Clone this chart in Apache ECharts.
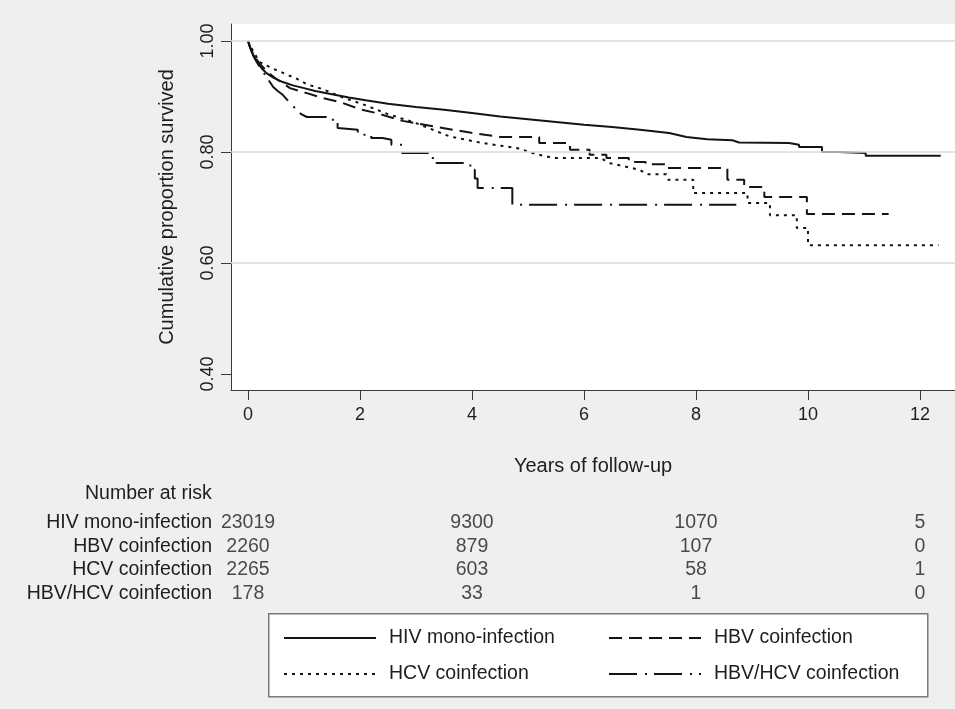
<!DOCTYPE html>
<html><head><meta charset="utf-8">
<script src="https://cdn.jsdelivr.net/npm/echarts@6/dist/echarts.min.js"></script>
<style>html,body{margin:0;padding:0;background:#efefef}#c{width:955px;height:709px}</style>
</head><body><div id="c"></div>
<script>
// ---- data ----
const seriesNames = ['HIV mono-infection', 'HBV coinfection', 'HCV coinfection', 'HBV/HCV coinfection'];
// [years, cumulative proportion survived]; visible steps given as corner pairs
const hivData = [[0,1],[0.03,0.99],[0.07,0.98],[0.12,0.97],[0.18,0.96],[0.25,0.95],[0.33,0.942],[0.45,0.934],[0.62,0.926],[0.8,0.92],[1.0,0.915],[1.2,0.91],[1.5,0.904],[1.8,0.898],[2.1,0.893],[2.5,0.887],[3.0,0.881],[3.5,0.876],[4.0,0.870],[4.5,0.864],[5.0,0.859],[5.5,0.854],[6.0,0.849],[6.5,0.845],[7.0,0.840],[7.52,0.834],[7.83,0.827],[8.2,0.823],[8.65,0.821],[8.77,0.817],[9.66,0.816],[9.66,0.813],[9.84,0.813],[9.84,0.809],[10.25,0.809],[10.25,0.800],[10.55,0.800],[10.55,0.798],[11.03,0.798],[11.03,0.793],[12.37,0.793]];
const hbvData = [[0,1],[0.05,0.985],[0.1,0.975],[0.2,0.96],[0.35,0.944],[0.5,0.932],[0.75,0.915],[1.05,0.906],[1.34,0.897],[1.64,0.890],[2.0,0.877],[2.3,0.870],[2.76,0.856],[3.37,0.845],[3.96,0.835],[4.5,0.827],[5.2,0.827],[5.2,0.816],[5.75,0.816],[5.75,0.804],[6.1,0.804],[6.1,0.795],[6.4,0.795],[6.4,0.789],[6.8,0.789],[6.8,0.782],[7.1,0.782],[7.1,0.778],[7.45,0.778],[7.45,0.771],[8.56,0.771],[8.56,0.750],[8.86,0.750],[8.86,0.737],[9.22,0.737],[9.22,0.719],[9.98,0.719],[9.98,0.688],[11.44,0.688]];
const hcvData = [[0,1],[0.05,0.99],[0.1,0.98],[0.21,0.962],[0.45,0.950],[0.87,0.932],[1.05,0.922],[1.34,0.913],[1.64,0.900],[2.05,0.886],[2.48,0.869],[3.0,0.852],[3.6,0.828],[4.19,0.816],[4.8,0.807],[5.08,0.798],[5.45,0.789],[6.3,0.789],[6.45,0.780],[6.99,0.768],[7.12,0.760],[7.47,0.760],[7.5,0.750],[7.95,0.750],[7.95,0.726],[8.92,0.726],[8.92,0.708],[9.32,0.708],[9.32,0.686],[9.8,0.686],[9.8,0.663],[10.0,0.663],[10.0,0.632],[12.33,0.632]];
const coData = [[0,1],[0.05,0.985],[0.1,0.972],[0.15,0.963],[0.21,0.953],[0.27,0.944],[0.33,0.935],[0.45,0.917],[0.53,0.91],[0.62,0.903],[0.7,0.894],[0.78,0.885],[0.87,0.876],[0.95,0.868],[1.05,0.863],[1.41,0.863],[1.41,0.858],[1.6,0.858],[1.6,0.843],[1.96,0.840],[1.96,0.831],[2.2,0.831],[2.2,0.825],[2.4,0.825],[2.4,0.822],[2.56,0.822],[2.56,0.813],[2.75,0.813],[2.75,0.798],[3.3,0.798],[3.3,0.780],[3.97,0.780],[3.97,0.768],[4.05,0.768],[4.05,0.752],[4.1,0.752],[4.1,0.735],[4.72,0.735],[4.72,0.705],[8.72,0.705]];

const xTicks = [0, 2, 4, 6, 8, 10, 12];
const yTicks = [0.4, 0.6, 0.8, 1.0];
const gridValues = [0.6, 0.8, 1.0];

// number at risk
const riskTimes = [0, 4, 8, 12];
const riskHIV = [23019, 9300, 1070, 5];
const riskHBV = [2260, 879, 107, 0];
const riskHCV = [2265, 603, 58, 1];
const riskCo = [178, 33, 1, 0];

// ---- chart ----
const FONT = 'Liberation Sans, Arial, sans-serif';
const TXT = '#1e1e1e';
const LINE = '#141414';
const dashes = {
  solid: 'solid',
  dashed: [13, 7],
  dotted: [3, 5],
  dashdot: [28, 8, 2, 7]
};
const seriesData = [hivData, hbvData, hcvData, coData];
const seriesDash = [dashes.solid, dashes.dashed, dashes.dotted, dashes.dashdot];
const riskRows = [riskHIV, riskHBV, riskHCV, riskCo];

const tableData = [];
riskRows.forEach((row, r) => {
  row.forEach((v, i) => tableData.push([riskTimes[i], r, v]));
});

const xMin = -0.304, xMax = 12.625, yMin = 0.371, yMax = 1.0306;

const series = [{
  name: 'gridlines', type: 'line', data: [], xAxisIndex: 0, yAxisIndex: 0, z: 1,
  markLine: {
    silent: true, symbol: ['none', 'none'], label: {show: false},
    lineStyle: {color: '#dadada', width: 1.5, type: 'solid'},
    data: gridValues.map(v => ({yAxis: v}))
  }
}];
seriesNames.forEach((n, i) => {
  series.push({
    name: n, type: 'line', symbol: 'none', showSymbol: false,
    xAxisIndex: 0, yAxisIndex: 0, z: 3,
    data: seriesData[i],
    lineStyle: {color: LINE, width: 2, type: seriesDash[i]},
    itemStyle: {color: LINE, opacity: 0},
    emphasis: {disabled: true}
  });
});
series.push({
  name: 'risk', type: 'scatter', xAxisIndex: 1, yAxisIndex: 1,
  symbolSize: 2, itemStyle: {color: 'rgba(0,0,0,0)'},
  data: tableData,
  label: {show: true, position: 'inside', formatter: p => String(p.data[2]),
    fontSize: 19.5, color: TXT, fontFamily: FONT}
});

const chart = echarts.init(document.getElementById('c'), null, {renderer: 'canvas'});
chart.setOption({
  animation: false,
  backgroundColor: '#efefef',
  textStyle: {fontFamily: FONT},
  title: {text: 'Number at risk', left: 85, top: 484, padding: 0,
    textStyle: {fontSize: 19.5, fontWeight: 'normal', color: TXT, fontFamily: FONT}},
  grid: [
    {left: 231, right: 0, top: 24, height: 366, show: true, backgroundColor: '#ffffff', borderWidth: 0},
    {left: 231, right: 0, top: 511, height: 94}
  ],
  xAxis: [{
    type: 'value', gridIndex: 0, min: xMin, max: xMax,
    axisLine: {show: true, onZero: false, lineStyle: {color: '#3a3a3a', width: 1}},
    axisTick: {show: true, customValues: xTicks, length: 10, lineStyle: {color: '#3a3a3a'}},
    axisLabel: {customValues: xTicks, fontSize: 18, color: TXT, margin: 16, fontFamily: FONT},
    splitLine: {show: false},
    name: 'Years of follow-up', nameLocation: 'middle', nameGap: 66,
    nameTextStyle: {fontSize: 20, color: TXT, fontFamily: FONT}
  }, {
    type: 'value', gridIndex: 1, min: xMin, max: xMax, show: false
  }],
  yAxis: [{
    type: 'value', gridIndex: 0, min: yMin, max: yMax,
    axisLine: {show: true, onZero: false, lineStyle: {color: '#3a3a3a', width: 1}},
    axisTick: {show: true, customValues: yTicks, length: 10, lineStyle: {color: '#3a3a3a'}},
    axisLabel: {customValues: yTicks, rotate: 90, fontSize: 18, color: TXT, margin: 14,
      formatter: v => Number(v).toFixed(2), fontFamily: FONT},
    splitLine: {show: false},
    name: 'Cumulative proportion survived', nameLocation: 'middle', nameGap: 54,
    nameTextStyle: {fontSize: 20, color: TXT, fontFamily: FONT}
  }, {
    type: 'category', gridIndex: 1, data: seriesNames, inverse: true,
    axisLine: {show: false}, axisTick: {show: false}, splitLine: {show: false},
    axisLabel: {interval: 0, margin: 19, fontSize: 19.5, color: TXT, fontFamily: FONT}
  }],
  legend: [{
    data: [seriesNames[0], seriesNames[2]], orient: 'vertical', left: 278, top: 623,
    itemWidth: 92, itemHeight: 14, itemGap: 16, selectedMode: false, z: 10,
    itemStyle: {opacity: 0},
    textStyle: {fontSize: 19.5, color: TXT, fontFamily: FONT, padding: [0, 0, 0, 8]}
  }, {
    data: [seriesNames[1], seriesNames[3]], orient: 'vertical', left: 603, top: 623,
    itemWidth: 92, itemHeight: 14, itemGap: 16, selectedMode: false, z: 10,
    itemStyle: {opacity: 0},
    textStyle: {fontSize: 19.5, color: TXT, fontFamily: FONT, padding: [0, 0, 0, 8]}
  }],
  graphic: {elements: [{
    type: 'rect', left: 268, top: 613, z: 0,
    shape: {width: 659, height: 83},
    style: {fill: '#ffffff', stroke: '#7a7a7a', lineWidth: 1.5}
  }]},
  series: series
});
</script>
</body></html>
